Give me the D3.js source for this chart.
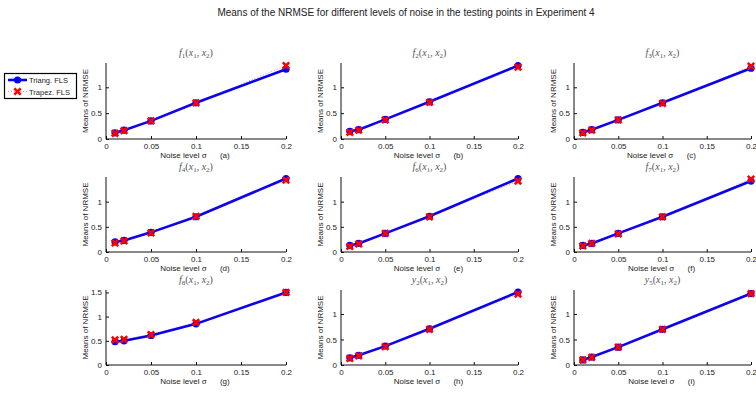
<!DOCTYPE html>
<html>
<head>
<meta charset="utf-8">
<script src="https://cdn.jsdelivr.net/npm/d3@7"></script>
<style>
  body { margin: 0; background: #fff; }
  svg { display: block; font-family: "Liberation Sans", Arial, sans-serif; }
</style>
</head>
<body>
<svg id="chart" width="756" height="394"></svg>
<script>
// noise levels on the x axis
const noise = [0.01, 0.02, 0.05, 0.1, 0.2];
const xTicks = [0, 0.05, 0.1, 0.15, 0.2];

// panel titles: [letter, subscript]
const funcs = [['f', '1'], ['f', '2'], ['f', '3'], ['f', '4'], ['f', '6'], ['f', '7'], ['f', '8'], ['y', '2'], ['y', '5']];
const letters = ['a', 'b', 'c', 'd', 'e', 'f', 'g', 'h', 'i'];

// means of NRMSE, triangular FLS
const triang = [
  [0.12, 0.17, 0.35, 0.70, 1.35],
  [0.15, 0.18, 0.38, 0.72, 1.42],
  [0.13, 0.18, 0.37, 0.70, 1.37],
  [0.20, 0.23, 0.39, 0.70, 1.46],
  [0.13, 0.17, 0.37, 0.71, 1.46],
  [0.13, 0.17, 0.37, 0.70, 1.41],
  [0.48, 0.50, 0.61, 0.85, 1.50],
  [0.14, 0.19, 0.37, 0.71, 1.43],
  [0.10, 0.155, 0.35, 0.70, 1.40]
];
// means of NRMSE, trapezoidal FLS
const trapez = [
  [0.11, 0.16, 0.35, 0.70, 1.42],
  [0.13, 0.17, 0.37, 0.71, 1.39],
  [0.12, 0.17, 0.37, 0.69, 1.41],
  [0.18, 0.22, 0.38, 0.71, 1.43],
  [0.11, 0.16, 0.37, 0.70, 1.41],
  [0.12, 0.17, 0.36, 0.70, 1.45],
  [0.52, 0.53, 0.63, 0.88, 1.50],
  [0.13, 0.18, 0.36, 0.70, 1.39],
  [0.10, 0.15, 0.35, 0.70, 1.40]
];
// y axis upper limits
const yMax = [1.47, 1.47, 1.47, 1.49, 1.49, 1.49, 1.55, 1.47, 1.47];

const svg = d3.select('#chart');
const textCol = '#222';

// layout (MATLAB-like subplot grid)
const colLeft = [106, 341, 574];
const colWidth = [180, 177, 177];
const rowTop = [63, 177, 290];
const rowBottom = [139, 252, 365];

svg.append('text')
  .attr('x', 406).attr('y', 16)
  .attr('text-anchor', 'middle')
  .attr('font-size', 10)
  .attr('fill', textCol)
  .text('Means of the NRMSE for different levels of noise in the testing points in Experiment 4');

funcs.forEach((fn, i) => {
  const r = Math.floor(i / 3), c = i % 3;
  const left = colLeft[c], right = left + colWidth[c];
  const top = rowTop[r], bottom = rowBottom[r];

  const x = d3.scaleLinear().domain([0, 0.2]).range([left, right]);
  const y = d3.scaleLinear().domain([0, yMax[i]]).range([bottom, top]);
  const yTicks = yMax[i] >= 1.5 ? [0, 0.5, 1, 1.5] : [0, 0.5, 1];

  const g = svg.append('g');

  // axes (box off, ticks inside)
  const xa = g.append('g')
    .attr('transform', `translate(0,${bottom})`)
    .call(d3.axisBottom(x).tickValues(xTicks).tickSize(-3).tickPadding(4)
      .tickFormat(d => d3.format('~g')(d)));
  const ya = g.append('g')
    .attr('transform', `translate(${left},0)`)
    .call(d3.axisLeft(y).tickValues(yTicks).tickSize(-3).tickPadding(4)
      .tickFormat(d => d3.format('~g')(d)));
  [xa, ya].forEach(a => {
    a.select('.domain').attr('stroke', '#111').attr('stroke-width', 1);
    a.selectAll('.tick line').attr('stroke', '#111');
    a.selectAll('.tick text').attr('font-size', 8).attr('fill', textCol)
      .attr('font-family', '"Liberation Sans", Arial, sans-serif');
  });
  // remove the outer end caps of d3 domain path
  xa.select('.domain').attr('d', `M${left},0H${right}`);
  ya.select('.domain').attr('d', `M0,${bottom}V${top}`);

  // subplot title
  const t = g.append('text')
    .attr('x', (left + right) / 2).attr('y', top - 7)
    .attr('text-anchor', 'middle')
    .attr('font-family', '"Liberation Serif", "DejaVu Serif", serif')
    .attr('font-size', 10)
    .attr('fill', '#555');
  t.append('tspan').attr('font-style', 'italic').text(fn[0]);
  t.append('tspan').attr('font-size', 7).attr('dy', 2).text(fn[1]);
  t.append('tspan').attr('dy', -2).text('(');
  t.append('tspan').attr('font-style', 'italic').text('x');
  t.append('tspan').attr('font-size', 7).attr('dy', 2).text('1');
  t.append('tspan').attr('dy', -2).text(', ');
  t.append('tspan').attr('font-style', 'italic').text('x');
  t.append('tspan').attr('font-size', 7).attr('dy', 2).text('2');
  t.append('tspan').attr('dy', -2).text(')');

  // x label
  g.append('text')
    .attr('x', x(0.1) - 1).attr('y', bottom + 19)
    .attr('text-anchor', 'middle')
    .attr('font-size', 8)
    .attr('fill', textCol)
    .attr('xml:space', 'preserve')
    .text(`Noise level σ      (${letters[i]})`);

  // y label
  g.append('text')
    .attr('transform', `translate(${left - 18},${(top + bottom) / 2}) rotate(-90)`)
    .attr('text-anchor', 'middle')
    .attr('font-size', 8)
    .attr('fill', textCol)
    .text('Means of NRMSE');

  const line = d3.line().x((d, k) => x(noise[k])).y(d => y(d));

  // triangular FLS: thick blue with circles
  g.append('path')
    .datum(triang[i])
    .attr('d', line)
    .attr('fill', 'none')
    .attr('stroke', '#0000ff')
    .attr('stroke-width', 2.6);
  g.selectAll('.tri')
    .data(triang[i])
    .enter().append('circle')
    .attr('cx', (d, k) => x(noise[k]))
    .attr('cy', d => y(d))
    .attr('r', 3.6)
    .attr('fill', '#0000ff');

  // trapezoidal FLS: red dotted with crosses
  g.append('path')
    .datum(trapez[i])
    .attr('d', line)
    .attr('fill', 'none')
    .attr('stroke', '#ff0000')
    .attr('stroke-width', 0.8)
    .attr('stroke-dasharray', '1,2')
    .attr('opacity', 0.6);
  const cross = 3.2;
  trapez[i].forEach((d, k) => {
    const cx = x(noise[k]), cy = y(d);
    g.append('path')
      .attr('d', `M${cx - cross},${cy - cross}L${cx + cross},${cy + cross}M${cx - cross},${cy + cross}L${cx + cross},${cy - cross}`)
      .attr('stroke', '#ff0000')
      .attr('stroke-width', 2.6);
  });
});

// legend
const lg = svg.append('g');
lg.append('rect')
  .attr('x', 4.5).attr('y', 73.5).attr('width', 72).attr('height', 25)
  .attr('fill', '#fff').attr('stroke', '#000').attr('stroke-width', 1.2);
lg.append('line')
  .attr('x1', 8).attr('x2', 27).attr('y1', 80).attr('y2', 80)
  .attr('stroke', '#0000ff').attr('stroke-width', 2.6);
lg.append('circle').attr('cx', 17.5).attr('cy', 80).attr('r', 3.6).attr('fill', '#0000ff');
lg.append('line')
  .attr('x1', 8).attr('x2', 27).attr('y1', 91.5).attr('y2', 91.5)
  .attr('stroke', '#ff0000').attr('stroke-width', 0.8)
  .attr('stroke-dasharray', '1,2').attr('opacity', 0.6);
lg.append('path')
  .attr('d', 'M14.3,88.3L20.7,94.7M14.3,94.7L20.7,88.3')
  .attr('stroke', '#ff0000').attr('stroke-width', 2.6);
lg.append('text').attr('x', 29).attr('y', 83).attr('font-size', 7.5).attr('fill', textCol).text('Triang. FLS');
lg.append('text').attr('x', 29).attr('y', 94.5).attr('font-size', 7.5).attr('fill', textCol).text('Trapez. FLS');
</script>
</body>
</html>
